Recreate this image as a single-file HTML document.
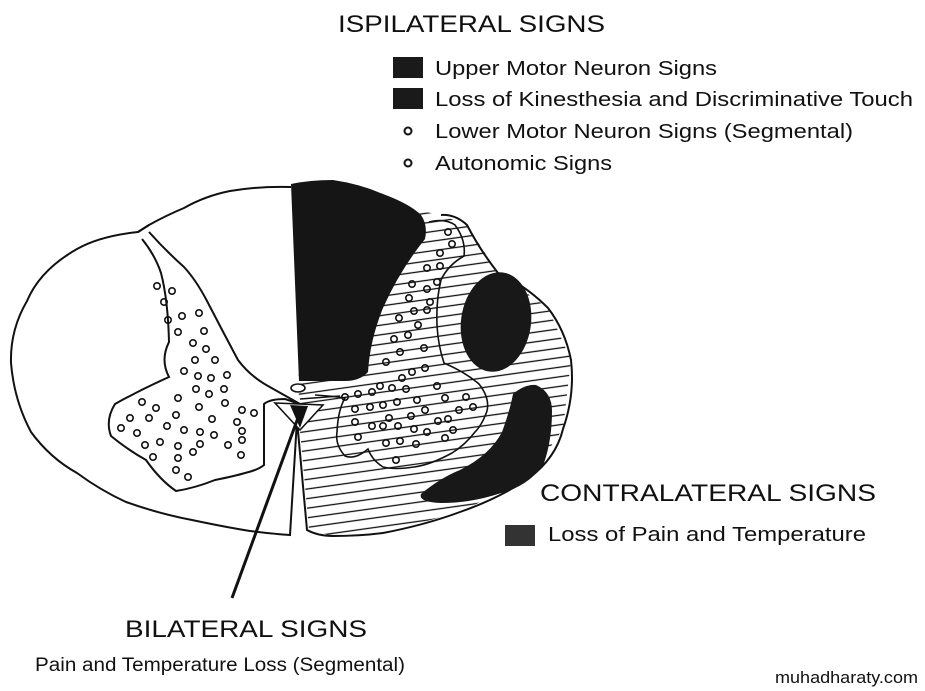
<!DOCTYPE html>
<html><head><meta charset="utf-8"><style>html,body{margin:0;padding:0;background:#fff}svg{display:block}text{font-family:"Liberation Sans",Arial,sans-serif;fill:#111}</style></head>
<body>
<svg width="925" height="691" viewBox="0 0 925 691" xmlns="http://www.w3.org/2000/svg">
<defs>
<pattern id="h" width="12" height="9.5" patternUnits="userSpaceOnUse" patternTransform="rotate(-8)">
<line x1="0" y1="4.5" x2="12" y2="4.5" stroke="#111" stroke-width="1.3"/>
</pattern>
<clipPath id="rc"><path d="M297,187 L441,215 L467,225 L498,273 L548,308 L571,360 L563,429 L529,478 L460,512 L383,533 L333,536 L309,530 L299,420 Z"/></clipPath>
</defs>

<text x="338" y="32" font-size="24" textLength="267" lengthAdjust="spacingAndGlyphs">ISPILATERAL SIGNS</text>
<rect x="393" y="57" width="30" height="21" fill="#1a1a1a"/>
<text x="435" y="75" font-size="20" textLength="282" lengthAdjust="spacingAndGlyphs">Upper Motor Neuron Signs</text>
<rect x="393" y="88" width="30" height="21" fill="#1a1a1a"/>
<text x="435" y="106" font-size="20" textLength="478" lengthAdjust="spacingAndGlyphs">Loss of Kinesthesia and Discriminative Touch</text>
<circle cx="408" cy="131" r="3.5" fill="none" stroke="#111" stroke-width="2"/>
<text x="435" y="138" font-size="20" textLength="418" lengthAdjust="spacingAndGlyphs">Lower Motor Neuron Signs (Segmental)</text>
<circle cx="408" cy="163" r="3.5" fill="none" stroke="#111" stroke-width="2"/>
<text x="435" y="170" font-size="20" textLength="177" lengthAdjust="spacingAndGlyphs">Autonomic Signs</text>

<text x="540" y="501" font-size="24" textLength="336" lengthAdjust="spacingAndGlyphs">CONTRALATERAL SIGNS</text>
<rect x="505" y="525" width="30" height="21" fill="#333"/>
<text x="548" y="541" font-size="20" textLength="318" lengthAdjust="spacingAndGlyphs">Loss of Pain and Temperature</text>

<text x="125" y="637" font-size="24" textLength="242" lengthAdjust="spacingAndGlyphs">BILATERAL SIGNS</text>
<text x="35" y="671" font-size="19" textLength="370" lengthAdjust="spacingAndGlyphs">Pain and Temperature Loss (Segmental)</text>
<text x="775" y="683" font-size="17" textLength="143" lengthAdjust="spacingAndGlyphs">muhadharaty.com</text>

<rect x="290" y="180" width="300" height="380" fill="url(#h)" clip-path="url(#rc)"/>

<path d="M291,187 Q260,186 230,191 Q205,196 184,208 Q165,216 149,225 L138,232 Q100,236 77,249 Q40,270 27,301 Q10,330 11,363 Q14,400 31,432 Q50,458 77,473 Q100,490 126,502 Q160,514 192,520 Q225,527 250,531 Q275,534 290,535 L297,420 L307,530 Q318,536 333,536 Q360,536 383,533 Q425,525 460,512 Q500,498 529,478 Q556,458 563,429 Q575,395 571,360 Q565,330 548,308 Q525,285 498,273 Q480,250 467,225 Q455,214 441,215" fill="none" stroke="#111" stroke-width="2"/>
<line x1="138" y1="232" x2="149" y2="225" stroke="#111" stroke-width="2"/>

<path d="M291,184 Q310,180 333,180 Q360,184 383,194 Q410,204 421,215 Q428,225 425,239 Q400,270 383,308 Q370,340 368,372 Q360,381 345,381 L299,381 Z" fill="#151515"/>

<path d="M142,239 Q155,255 161,273 Q168,300 169,342 Q160,360 169,377 Q140,390 115,404 Q105,420 111,436 Q128,450 146,460 Q160,480 176,491 Q195,488 215,480 Q235,476 245,473 Q258,470 264,465 L264,404 Q270,399 285,399 L300,404 L268,386 Q250,376 238,360 Q222,330 207,301 Q196,280 184,267 Q165,250 149,232" fill="#fff" stroke="#111" stroke-width="2"/>
<line x1="300" y1="399" x2="340" y2="396" stroke="#111" stroke-width="1.6"/>

<path d="M429,222 Q445,218 455,225 Q466,240 464,256 Q448,265 441,280 Q436,300 437,325 Q438,345 444,363 Q465,372 479,384 Q490,398 487,411 Q482,425 475,432 Q465,445 452,453 Q430,465 414,467 Q395,470 383,467 Q372,460 368,449 Q355,460 345,456 Q335,445 337,432 Q338,410 345,398 Q332,396 315,395" fill="none" stroke="#111" stroke-width="1.6"/>

<ellipse cx="496" cy="322" rx="35" ry="50" transform="rotate(8 496 322)" fill="#181818"/>
<path d="M421,494 Q440,478 460,470 Q490,455 502,432 Q510,410 513,394 Q525,384 536,385 Q552,392 552,411 Q552,440 544,463 Q530,486 498,494 Q470,503 441,503 Q418,502 421,494 Z" fill="#181818"/>

<ellipse cx="298" cy="388" rx="7" ry="4" fill="#fff" stroke="#111" stroke-width="1.6"/>
<path d="M275,403 L323,405 L300,430 Z" fill="#fff" stroke="#111" stroke-width="1.6"/>
<path d="M290,405 L308,406 L300,428 Z" fill="#111"/>

<line x1="232" y1="598" x2="299" y2="415" stroke="#111" stroke-width="3"/>

<g fill="none" stroke="#111" stroke-width="1.6">
<circle cx="157" cy="286" r="3.2"/><circle cx="172" cy="291" r="3.2"/><circle cx="164" cy="302" r="3.2"/>
<circle cx="168" cy="320" r="3.2"/><circle cx="182" cy="316" r="3.2"/><circle cx="199" cy="313" r="3.2"/>
<circle cx="178" cy="332" r="3.2"/><circle cx="204" cy="331" r="3.2"/><circle cx="193" cy="343" r="3.2"/>
<circle cx="206" cy="349" r="3.2"/><circle cx="195" cy="360" r="3.2"/><circle cx="215" cy="360" r="3.2"/>
<circle cx="184" cy="371" r="3.2"/><circle cx="198" cy="376" r="3.2"/><circle cx="211" cy="378" r="3.2"/><circle cx="227" cy="375" r="3.2"/>
<circle cx="196" cy="389" r="3.2"/><circle cx="224" cy="389" r="3.2"/><circle cx="209" cy="394" r="3.2"/>
<circle cx="142" cy="402" r="3.2"/><circle cx="156" cy="408" r="3.2"/><circle cx="178" cy="398" r="3.2"/><circle cx="199" cy="407" r="3.2"/><circle cx="225" cy="403" r="3.2"/><circle cx="242" cy="410" r="3.2"/><circle cx="254" cy="413" r="3.2"/>
<circle cx="130" cy="418" r="3.2"/><circle cx="149" cy="418" r="3.2"/><circle cx="176" cy="415" r="3.2"/><circle cx="212" cy="419" r="3.2"/><circle cx="237" cy="422" r="3.2"/>
<circle cx="121" cy="428" r="3.2"/><circle cx="137" cy="433" r="3.2"/><circle cx="167" cy="426" r="3.2"/><circle cx="184" cy="430" r="3.2"/><circle cx="200" cy="432" r="3.2"/><circle cx="214" cy="435" r="3.2"/><circle cx="242" cy="431" r="3.2"/>
<circle cx="145" cy="445" r="3.2"/><circle cx="160" cy="442" r="3.2"/><circle cx="178" cy="446" r="3.2"/><circle cx="200" cy="444" r="3.2"/><circle cx="228" cy="445" r="3.2"/><circle cx="242" cy="440" r="3.2"/>
<circle cx="153" cy="457" r="3.2"/><circle cx="178" cy="458" r="3.2"/><circle cx="193" cy="452" r="3.2"/><circle cx="241" cy="455" r="3.2"/>
<circle cx="176" cy="470" r="3.2"/><circle cx="188" cy="477" r="3.2"/>
<circle cx="448" cy="232" r="3.2"/><circle cx="452" cy="244" r="3.2"/><circle cx="440" cy="253" r="3.2"/><circle cx="440" cy="266" r="3.2"/><circle cx="427" cy="268" r="3.2"/>
<circle cx="412" cy="284" r="3.2"/><circle cx="427" cy="289" r="3.2"/><circle cx="437" cy="282" r="3.2"/><circle cx="409" cy="298" r="3.2"/><circle cx="430" cy="302" r="3.2"/>
<circle cx="414" cy="311" r="3.2"/><circle cx="427" cy="310" r="3.2"/><circle cx="399" cy="318" r="3.2"/><circle cx="418" cy="325" r="3.2"/><circle cx="408" cy="335" r="3.2"/>
<circle cx="394" cy="339" r="3.2"/><circle cx="424" cy="348" r="3.2"/><circle cx="400" cy="352" r="3.2"/><circle cx="386" cy="362" r="3.2"/><circle cx="412" cy="372" r="3.2"/><circle cx="425" cy="368" r="3.2"/><circle cx="402" cy="378" r="3.2"/>
<circle cx="345" cy="397" r="3.2"/><circle cx="358" cy="394" r="3.2"/><circle cx="372" cy="392" r="3.2"/><circle cx="380" cy="386" r="3.2"/><circle cx="392" cy="388" r="3.2"/><circle cx="406" cy="389" r="3.2"/><circle cx="437" cy="386" r="3.2"/><circle cx="466" cy="397" r="3.2"/>
<circle cx="355" cy="409" r="3.2"/><circle cx="370" cy="407" r="3.2"/><circle cx="383" cy="405" r="3.2"/><circle cx="397" cy="402" r="3.2"/><circle cx="417" cy="400" r="3.2"/><circle cx="445" cy="398" r="3.2"/><circle cx="459" cy="410" r="3.2"/><circle cx="473" cy="407" r="3.2"/>
<circle cx="355" cy="422" r="3.2"/><circle cx="389" cy="418" r="3.2"/><circle cx="411" cy="416" r="3.2"/><circle cx="425" cy="410" r="3.2"/><circle cx="438" cy="421" r="3.2"/><circle cx="448" cy="419" r="3.2"/>
<circle cx="372" cy="426" r="3.2"/><circle cx="383" cy="426" r="3.2"/><circle cx="398" cy="426" r="3.2"/><circle cx="414" cy="429" r="3.2"/><circle cx="427" cy="432" r="3.2"/><circle cx="453" cy="430" r="3.2"/>
<circle cx="358" cy="437" r="3.2"/><circle cx="386" cy="443" r="3.2"/><circle cx="400" cy="441" r="3.2"/><circle cx="416" cy="444" r="3.2"/><circle cx="445" cy="438" r="3.2"/>
<circle cx="396" cy="460" r="3.2"/>
</g>
</svg>
</body></html>
